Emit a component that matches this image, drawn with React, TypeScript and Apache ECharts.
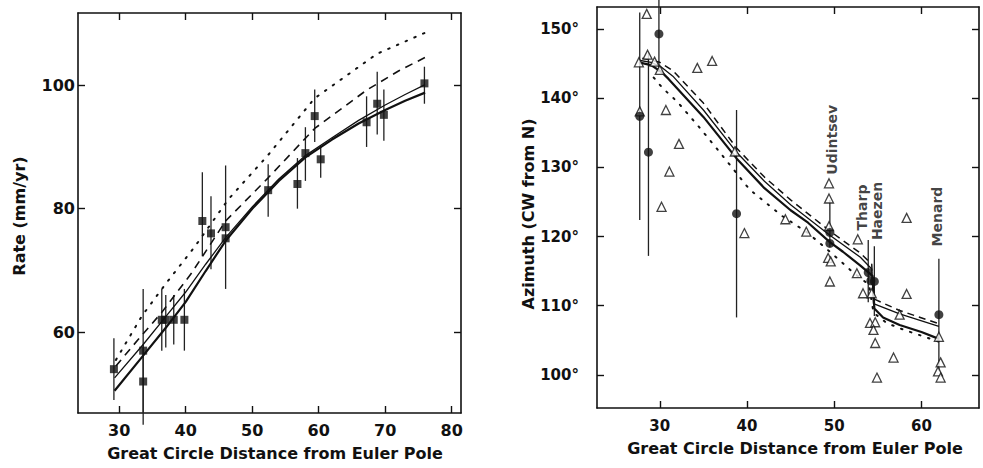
import React, { useEffect, useRef } from "react";
import * as echarts from "echarts";

const FONT = '"DejaVu Sans", "Liberation Sans", sans-serif';
const INK = "#111";

// ---------- Left panel: spreading rate vs distance ----------
// [distance, rate, low, high]
const rateObs: number[][] = [
  [29.2, 54.0, 49.0, 59.0],
  [33.6, 57.0, 47.0, 67.0],
  [33.6, 52.0, 45.0, 58.0],
  [36.4, 62.0, 57.0, 67.0],
  [37.0, 62.0, 57.5, 66.0],
  [38.2, 62.0, 58.0, 66.0],
  [39.8, 62.0, 57.0, 67.0],
  [42.5, 78.0, 72.3, 85.9],
  [43.8, 76.0, 70.2, 82.0],
  [46.0, 77.0, 67.0, 87.0],
  [46.0, 75.2, 75.2, 75.2],
  [52.4, 83.0, 78.7, 87.2],
  [56.8, 84.0, 80.0, 88.2],
  [58.0, 89.0, 84.5, 93.2],
  [59.4, 95.0, 90.8, 99.3],
  [60.3, 88.0, 85.0, 90.2],
  [67.2, 94.0, 90.0, 98.2],
  [68.8, 97.0, 92.0, 102.2],
  [69.8, 95.2, 91.0, 99.3],
  [75.9, 100.3, 97.0, 103.0],
];
const rateSolidThin: number[][] = [
  [29.3, 52.6], [33.6, 58.0], [37, 62.5], [40, 66.5], [43, 71], [46, 75.3],
  [50, 80.3], [54, 84.8], [58, 88.6], [62, 91.5], [66, 94.3], [70, 96.8],
  [73, 98.5], [76, 100.1],
];
const rateSolidThick: number[][] = [
  [29.3, 50.5], [33.6, 56.2], [37, 60.7], [40, 64.9], [43, 69.9], [46, 74.8],
  [50, 80], [54, 84.5], [58, 88.3], [62, 91.2], [66, 93.8], [70, 96],
  [73, 97.5], [76, 98.8],
];
const rateDashed: number[][] = [
  [29.5, 54.5], [33, 59], [36.4, 63.2], [40.9, 69.6], [46, 78], [52.4, 85],
  [59.4, 93], [67.2, 99.2], [72, 102.3], [76, 104.5],
];
const rateDotted: number[][] = [
  [29.5, 55.5], [33.4, 62.6], [36.9, 67.7], [41.4, 73.9], [46.4, 81.5],
  [52.4, 88.7], [59.4, 97.9], [68.8, 105.1], [76, 108.5],
];
const rateXTicks = [30, 40, 50, 60, 70, 80];
const rateYTicks = [60, 80, 100];

// ---------- Right panel: azimuth vs distance ----------
const azTriangles: number[][] = [
  [28.5, 152.2], [27.6, 145.2], [27.7, 138.1], [28.6, 146.3], [29.4, 145.3],
  [30.0, 144.1], [34.3, 144.4], [36.0, 145.4], [30.7, 138.3], [32.2, 133.4],
  [31.1, 129.4], [30.2, 124.3], [38.6, 132.3], [39.7, 120.5], [44.4, 122.5],
  [46.8, 120.7], [49.4, 127.7], [49.4, 125.5], [49.4, 121.5], [49.3, 116.9],
  [49.6, 116.4], [49.5, 113.5], [52.7, 119.6], [52.6, 114.7], [58.3, 122.7],
  [58.3, 111.7], [53.3, 111.8], [54.3, 111.8], [57.5, 108.7], [54.1, 107.5],
  [54.7, 107.6], [54.5, 106.5], [54.7, 104.6], [56.8, 102.5], [54.9, 99.6],
  [62.0, 105.5], [62.2, 101.8], [61.9, 100.5], [62.2, 99.6],
];
// [distance, azimuth, low, high]
const azObs: number[][] = [
  [27.7, 137.4, 122.4, 152.4],
  [28.7, 132.2, 117.2, 146.6],
  [29.9, 149.3, 143.8, 155.0],
  [38.8, 123.3, 108.3, 138.3],
  [49.5, 120.6, 118.5, 125.3],
  [49.5, 119.0, 119.0, 119.0],
  [53.9, 114.8, 110.5, 119.5],
  [54.2, 113.6, 113.6, 113.6],
  [54.6, 113.5, 108.5, 118.6],
  [62.0, 108.7, 100.6, 116.8],
];
const azSolidThin: number[][] = [
  [27.6, 145.5], [29, 145.2], [30.2, 144.5], [31.5, 143.2], [35, 138.3],
  [38.8, 132.2], [42, 128], [45, 124.6], [49.5, 120.2], [53, 117],
  [54.3, 115.3], [54.5, 110.3], [57.5, 108.8], [62, 107],
];
const azSolidThick: number[][] = [
  [27.6, 145.2], [29, 144.8], [30.2, 143.8], [31, 142.8], [35, 137.3],
  [38.8, 131.3], [42, 127], [45, 123.8], [47, 122], [49.5, 119.2], [51, 117.8],
  [53, 115.8], [54.4, 114.3], [54.6, 109.6], [55.6, 108.3], [57.5, 107.2],
  [60, 106.2], [62, 105.2],
];
const azDashed: number[][] = [
  [28, 145.8], [30, 145.2], [31.5, 144], [35, 139.3], [38.8, 132.8], [42, 128.6],
  [45, 125.3], [49.5, 120.8], [53, 117.6], [54.3, 116], [54.5, 111],
  [57.5, 109.3], [62, 107.4],
];
const azDotted: number[][] = [
  [29.3, 143], [30.3, 141.5], [32, 139.5], [34.6, 135.7], [37, 132],
  [40.3, 126.8], [44, 123], [47, 120.5], [49.5, 117.8], [52, 115], [54, 113],
  [54.5, 109], [56, 107.5], [58, 106.5], [62, 104.8],
];
const azRidgeLabels = [
  { name: "Udintsev", value: [49.7, 134.0] },
  { name: "Tharp", value: [53.2, 124.2] },
  { name: "Haezen", value: [54.9, 123.7] },
  { name: "Menard", value: [61.8, 122.9] },
];
const azXTicks = [30, 40, 50, 60];
const azYTicks = [100, 110, 120, 130, 140, 150];

function makeAxis(
  gridIndex: number,
  position: string,
  min: number,
  max: number,
  ticks: number[],
  showLabels: boolean,
  margin: number,
  fontSize: number,
  fmt?: (v: number) => string
) {
  return {
    type: "value",
    gridIndex,
    position,
    min,
    max,
    axisLine: { show: true, onZero: false, lineStyle: { color: INK, width: 1.6 } },
    axisTick: { show: true, inside: true, length: 7, customValues: ticks, lineStyle: { color: INK, width: 1.4 } },
    axisLabel: {
      show: showLabels,
      customValues: ticks,
      margin,
      color: INK,
      fontFamily: FONT,
      fontWeight: "bold",
      fontSize,
      formatter: fmt ? (v: number) => fmt(v) : (v: number) => String(v),
    },
    splitLine: { show: false },
  };
}

function lineSeries(data: number[][], xi: number, yi: number, width: number, type: any, cap = "butt") {
  return {
    type: "line",
    xAxisIndex: xi,
    yAxisIndex: yi,
    data,
    showSymbol: false,
    symbol: "none",
    silent: true,
    z: 2,
    lineStyle: { color: INK, width, type, cap },
  };
}

function errSeries(obs: number[][], xi: number, yi: number) {
  return {
    type: "custom",
    xAxisIndex: xi,
    yAxisIndex: yi,
    clip: false,
    silent: true,
    z: 1,
    data: obs.filter((p) => p[3] > p[2]).map((p) => [p[0], p[2], p[3]]),
    encode: { x: 0, y: [1, 2] },
    renderItem: (_params: any, api: any) => {
      const a = api.coord([api.value(0), api.value(1)]);
      const b = api.coord([api.value(0), api.value(2)]);
      return {
        type: "line",
        shape: { x1: a[0], y1: a[1], x2: b[0], y2: b[1] },
        style: { stroke: "#222", lineWidth: 1.3 },
      };
    },
  };
}

export default function App() {
  const ref = useRef<HTMLDivElement>(null);
  useEffect(() => {
    if (!ref.current) return;
    const chart = echarts.init(ref.current, undefined, { renderer: "svg" });
    const nameStyle = { fill: INK, font: `bold 16px ${FONT}`, align: "center", verticalAlign: "middle" };
    chart.setOption({
      animation: false,
      backgroundColor: "#fff",
      grid: [
        { left: 78, top: 13, width: 383, height: 400 },
        { left: 597, top: 7, width: 382, height: 401 },
      ],
      xAxis: [
        makeAxis(0, "bottom", 23.8, 81.4, rateXTicks, true, 9, 16),
        makeAxis(0, "top", 23.8, 81.4, rateXTicks, false, 8, 16),
        makeAxis(1, "bottom", 22.8, 66.6, azXTicks, true, 10, 15),
        makeAxis(1, "top", 22.8, 66.6, azXTicks, false, 8, 15),
      ],
      yAxis: [
        makeAxis(0, "left", 46.9, 111.7, rateYTicks, true, 3, 16),
        makeAxis(0, "right", 46.9, 111.7, rateYTicks, false, 8, 16),
        makeAxis(1, "left", 95.2, 153.2, azYTicks, true, 18, 15, (v) => v + "°"),
        makeAxis(1, "right", 95.2, 153.2, azYTicks, false, 8, 15),
      ],
      graphic: [
        { type: "text", x: 275, y: 453, style: { ...nameStyle, text: "Great Circle Distance from Euler Pole" } },
        { type: "text", x: 795, y: 448, style: { ...nameStyle, text: "Great Circle Distance from Euler Pole" } },
        { type: "text", x: 19, y: 216, rotation: Math.PI / 2, style: { ...nameStyle, text: "Rate (mm/yr)" } },
        { type: "text", x: 528, y: 214, rotation: Math.PI / 2, style: { ...nameStyle, text: "Azimuth (CW from N)" } },
      ],
      series: [
        // left panel
        errSeries(rateObs, 0, 0),
        lineSeries(rateDotted, 0, 0, 2, [1.5, 8], "round"),
        lineSeries(rateDashed, 0, 0, 1.6, [8, 6]),
        lineSeries(rateSolidThin, 0, 0, 1.3, "solid"),
        lineSeries(rateSolidThick, 0, 0, 2.2, "solid"),
        {
          type: "scatter",
          xAxisIndex: 0,
          yAxisIndex: 0,
          symbol: "rect",
          symbolSize: 8,
          z: 3,
          itemStyle: { color: INK },
          data: rateObs.map((p) => [p[0], p[1]]),
        },
        // right panel
        errSeries(azObs, 2, 2),
        lineSeries(azDotted, 2, 2, 2, [1.5, 8], "round"),
        lineSeries(azDashed, 2, 2, 1.5, [7, 5]),
        lineSeries(azSolidThin, 2, 2, 1.3, "solid"),
        lineSeries(azSolidThick, 2, 2, 2.2, "solid"),
        {
          type: "scatter",
          xAxisIndex: 2,
          yAxisIndex: 2,
          symbol: "triangle",
          symbolSize: 9,
          z: 3,
          itemStyle: { color: "#fff", borderColor: INK, borderWidth: 1.3 },
          data: azTriangles,
        },
        {
          type: "scatter",
          xAxisIndex: 2,
          yAxisIndex: 2,
          symbol: "circle",
          symbolSize: 9,
          z: 4,
          itemStyle: { color: INK },
          data: azObs.map((p) => [p[0], p[1]]),
        },
        {
          type: "scatter",
          xAxisIndex: 2,
          yAxisIndex: 2,
          symbolSize: 0,
          z: 5,
          silent: true,
          data: azRidgeLabels,
          label: {
            show: true,
            position: "inside",
            formatter: "{b}",
            rotate: 90,
            align: "center",
            verticalAlign: "middle",
            color: INK,
            fontFamily: FONT,
            fontWeight: "bold",
            fontSize: 14,
          },
        },
      ],
    });
    return () => chart.dispose();
  }, []);
  return (
    <div
      ref={ref}
      style={{ position: "absolute", left: 0, top: 0, width: 983, height: 468, background: "#fff" }}
    />
  );
}
